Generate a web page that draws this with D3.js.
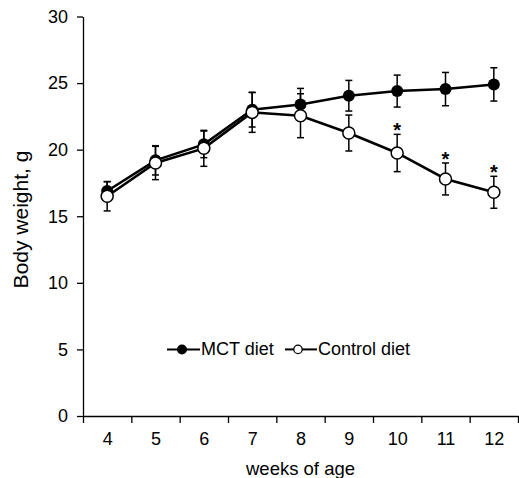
<!DOCTYPE html>
<html>
<head>
<meta charset="utf-8">
<script src="https://cdn.jsdelivr.net/npm/d3@7"></script>
<style>
  body { margin: 0; background: #fff; }
  svg { display: block; font-family: "Liberation Sans", Arial, sans-serif; }
  .axis path, .axis line { stroke: #000; stroke-width: 1.3; }
  .axis text { font-size: 18px; fill: #000; font-family: "Liberation Sans", Arial, sans-serif; }
</style>
</head>
<body>
<svg width="519" height="478"></svg>
<script>
// body weight (g) by week of age, mean and SE
let weeks = [4, 5, 6, 7, 8, 9, 10, 11, 12];
let mctMean = [16.9, 19.2, 20.4, 23.0, 23.4, 24.05, 24.4, 24.55, 24.9];
let mctSE = [0.7, 1.1, 1.0, 1.3, 1.2, 1.15, 1.2, 1.25, 1.25];
let controlMean = [16.5, 19.0, 20.1, 22.8, 22.55, 21.25, 19.75, 17.8, 16.8];
let controlSE = [1.1, 1.25, 1.35, 1.5, 1.65, 1.35, 1.4, 1.2, 1.2];
let sigWeeks = [10, 11, 12];
let yTicks = [0, 5, 10, 15, 20, 25, 30];
let seriesNames = ["MCT diet", "Control diet"];

let plotLeft = 83, plotRight = 518, plotTop = 16.5, plotBottom = 416;

var svg = d3.select("svg");

var x = d3.scaleLinear().domain([3.5, 12.5]).range([plotLeft, plotRight]);
var y = d3.scaleLinear().domain([0, 30]).range([plotBottom, plotTop]);

// y axis
svg.append("g")
    .attr("class", "axis")
    .attr("transform", `translate(${plotLeft},0)`)
    .call(d3.axisLeft(y).tickValues(yTicks).tickSize(6).tickPadding(8).tickSizeOuter(0))
    .call(g => g.selectAll("text").attr("dx", "-1"));

// x axis: tick marks between weeks, labels at weeks
let bounds = weeks.map(w => w - 0.5).concat([weeks[weeks.length - 1] + 0.5]);
svg.append("g")
    .attr("class", "axis")
    .attr("transform", `translate(0,${plotBottom})`)
    .call(d3.axisBottom(x).tickValues(bounds).tickFormat("").tickSize(7).tickSizeOuter(0));
svg.append("g")
    .attr("class", "axis")
    .attr("transform", `translate(0,${plotBottom})`)
    .call(d3.axisBottom(x).tickValues(weeks).tickSize(0).tickPadding(16))
    .call(g => g.select(".domain").remove());

// axis labels
svg.append("text")
    .attr("x", (plotLeft + plotRight) / 2)
    .attr("y", 475)
    .attr("text-anchor", "middle")
    .style("font-size", "18.5px")
    .text("weeks of age");
svg.append("text")
    .attr("transform", "rotate(-90)")
    .attr("x", -219.5)
    .attr("y", 28)
    .attr("text-anchor", "middle")
    .style("font-size", "21px")
    .text("Body weight, g");

let mctData = weeks.map((w, i) => ({week: w, mean: mctMean[i], se: mctSE[i]}));
let controlData = weeks.map((w, i) => ({week: w, mean: controlMean[i], se: controlSE[i]}));

let line = d3.line().x(d => x(d.week)).y(d => y(d.mean));

function drawErrorBars(data) {
    let g = svg.append("g").attr("stroke", "#000").attr("stroke-width", 1.5);
    g.selectAll(".v").data(data).enter().append("line")
        .attr("x1", d => x(d.week)).attr("x2", d => x(d.week))
        .attr("y1", d => y(d.mean + d.se)).attr("y2", d => y(d.mean - d.se));
    g.selectAll(".t").data(data).enter().append("line")
        .attr("x1", d => x(d.week) - 3.5).attr("x2", d => x(d.week) + 3.5)
        .attr("y1", d => y(d.mean + d.se)).attr("y2", d => y(d.mean + d.se));
    g.selectAll(".b").data(data).enter().append("line")
        .attr("x1", d => x(d.week) - 3.5).attr("x2", d => x(d.week) + 3.5)
        .attr("y1", d => y(d.mean - d.se)).attr("y2", d => y(d.mean - d.se));
}

drawErrorBars(mctData);
drawErrorBars(controlData);

svg.append("path").datum(mctData)
    .attr("fill", "none").attr("stroke", "#000").attr("stroke-width", 2.5)
    .attr("d", line);
svg.append("path").datum(controlData)
    .attr("fill", "none").attr("stroke", "#000").attr("stroke-width", 2.5)
    .attr("d", line);

svg.selectAll(".mct").data(mctData).enter().append("circle")
    .attr("cx", d => x(d.week)).attr("cy", d => y(d.mean))
    .attr("r", 6).attr("fill", "#000");
svg.selectAll(".ctrl").data(controlData).enter().append("circle")
    .attr("cx", d => x(d.week)).attr("cy", d => y(d.mean))
    .attr("r", 6).attr("fill", "#fff").attr("stroke", "#000").attr("stroke-width", 1.5);

// significance stars above control bars
svg.selectAll(".star").data(controlData.filter(d => sigWeeks.includes(d.week))).enter().append("text")
    .attr("x", d => x(d.week))
    .attr("y", d => y(d.mean + d.se) + 3)
    .attr("text-anchor", "middle")
    .style("font-size", "20px")
    .style("font-weight", "bold")
    .text("*");

// legend
let legY = y(5);
let leg = svg.append("g");
leg.append("line").attr("x1", 167).attr("x2", 200).attr("y1", legY).attr("y2", legY)
    .attr("stroke", "#000").attr("stroke-width", 2);
leg.append("circle").attr("cx", 182).attr("cy", legY).attr("r", 5).attr("fill", "#000");
leg.append("text").attr("x", 201).attr("y", legY + 6).style("font-size", "18px").text(seriesNames[0]);
leg.append("line").attr("x1", 285).attr("x2", 317).attr("y1", legY).attr("y2", legY)
    .attr("stroke", "#000").attr("stroke-width", 2);
leg.append("circle").attr("cx", 298).attr("cy", legY).attr("r", 4.2)
    .attr("fill", "#fff").attr("stroke", "#000").attr("stroke-width", 1.3);
leg.append("text").attr("x", 318).attr("y", legY + 6).style("font-size", "18px").text(seriesNames[1]);
</script>
</body>
</html>
